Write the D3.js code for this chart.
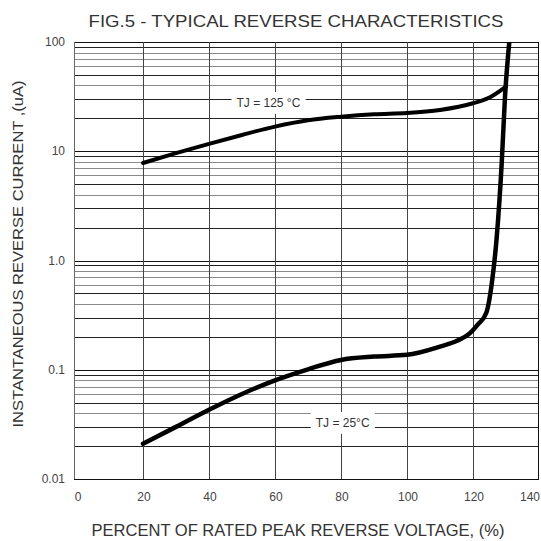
<!DOCTYPE html>
<html><head><meta charset="utf-8">
<script src="https://cdn.jsdelivr.net/npm/d3@7"></script>
<style>html,body{margin:0;padding:0;background:#fff;}svg{display:block;font-family:"Liberation Sans",Arial,sans-serif;}</style>
</head><body>
<svg id="c" width="541" height="541"></svg>
<script>
const title = "FIG.5 - TYPICAL REVERSE CHARACTERISTICS";
const xTitle = "PERCENT OF RATED PEAK REVERSE VOLTAGE, (%)";
const yTitle = "INSTANTANEOUS REVERSE CURRENT ,(uA)";
const xTicks = [0, 20, 40, 60, 80, 100, 120, 140];
const yTicks = [0.01, 0.1, 1, 10, 100];
const yTickLabels = ["0.01", "0.1", "1.0", "10", "100"];
const x125 = [20, 30, 40, 50, 60, 70, 80, 90, 100, 110, 120, 125, 130];
const y125 = [7.8, 9.6, 11.7, 14.1, 16.8, 19.2, 20.7, 21.8, 22.4, 23.9, 27.5, 31, 39];
const x25 = [20, 30, 40, 50, 60, 70, 80, 90, 100, 110, 115, 119, 121.5, 124, 125.7, 127.2, 128.7, 129.7, 131];
const y25 = [0.021, 0.030, 0.043, 0.060, 0.080, 0.101, 0.123, 0.132, 0.137, 0.163, 0.183, 0.215, 0.26, 0.33, 0.62, 1.65, 7.8, 31.6, 100];
const labels = ["TJ = 125 \u00B0C", "TJ = 25\u00B0C"];
const labelX = [58, 80.5];
const labelY = [27.7, 0.0326];

const svg = d3.select("#c");
const L = 74, R = 539, T = 42, B = 479;
const x = d3.scaleLinear().domain([0, 140]).range([77, 539]);
const y = d3.scaleLog().domain([0.01, 100]).range([B, T]);

// horizontal grid
const minor = [];
[0.01, 0.1, 1, 10].forEach(d => { for (let k = 2; k <= 9; k++) minor.push({v: d * k, k}); });
svg.append("g").selectAll("line").data(minor).join("line")
  .attr("x1", L).attr("x2", R)
  .attr("y1", d => Math.round(y(d.v)) + 0.5).attr("y2", d => Math.round(y(d.v)) + 0.5)
  .attr("stroke", d => (d.k === 2 || d.k === 3 || d.k === 5 || d.k === 9) ? "#222" : "#8a8a8a")
  .attr("stroke-width", 1);
svg.append("g").selectAll("line").data(yTicks).join("line")
  .attr("x1", L).attr("x2", R)
  .attr("y1", d => Math.round(y(d)) + 0.5).attr("y2", d => Math.round(y(d)) + 0.5)
  .attr("stroke", "#111").attr("stroke-width", 1.2);
// vertical grid
svg.append("g").selectAll("line").data(xTicks.filter(d => d > 0 && d < 140)).join("line")
  .attr("x1", d => Math.round(x(d)) + 0.5).attr("x2", d => Math.round(x(d)) + 0.5)
  .attr("y1", T).attr("y2", B).attr("stroke", "#444").attr("stroke-width", 1);
// frame
svg.append("line").attr("x1", L + 0.5).attr("x2", L + 0.5).attr("y1", T).attr("y2", B).attr("stroke", "#666");
svg.append("line").attr("x1", R - 0.5).attr("x2", R - 0.5).attr("y1", T).attr("y2", B).attr("stroke", "#111");

// label boxes
const lbl = svg.append("g");
labels.forEach((t, i) => {
  const tx = x(labelX[i]), ty = y(labelY[i]);
  const txt = lbl.append("text").attr("x", tx).attr("y", ty).attr("text-anchor", "middle")
    .attr("dominant-baseline", "central").attr("font-size", 12).attr("fill", "#333").text(t);
  const bb = txt.node().getBBox();
  lbl.insert("rect", "text").attr("x", bb.x - 5).attr("y", bb.y - 4).attr("width", bb.width + 10)
    .attr("height", bb.height + 8).attr("fill", "#fff");
});

// curves
const line = d3.line().x(d => x(d[0])).y(d => y(d[1])).curve(d3.curveMonotoneX);
svg.append("defs").append("clipPath").attr("id", "clip").append("rect")
  .attr("x", L).attr("y", T).attr("width", R - L).attr("height", B - T);
const cg = svg.append("g").attr("clip-path", "url(#clip)");
cg.append("path").datum(d3.zip(x125, y125)).attr("d", line).attr("fill", "none")
  .attr("stroke", "#000").attr("stroke-width", 4).attr("stroke-linecap", "round");
cg.append("path").datum(d3.zip(x25, y25)).attr("d", line).attr("fill", "none")
  .attr("stroke", "#000").attr("stroke-width", 4.5).attr("stroke-linecap", "round");

// tick labels
svg.append("g").selectAll("text").data(yTicks).join("text")
  .attr("x", 65).attr("y", d => y(d)).attr("text-anchor", "end").attr("dominant-baseline", "central")
  .attr("font-size", 12).attr("fill", "#444").text((d, i) => yTickLabels[i]);
svg.append("g").selectAll("text").data(xTicks).join("text")
  .attr("x", d => d === 140 ? 540 : x(d) + 1).attr("y", 497)
  .attr("text-anchor", d => d === 140 ? "end" : "middle").attr("dominant-baseline", "central")
  .attr("font-size", 12).attr("fill", "#444").text(d => d);

// titles
svg.append("text").attr("x", 296).attr("y", 27).attr("text-anchor", "middle")
  .attr("font-size", 17).attr("fill", "#333").attr("textLength", 415).attr("lengthAdjust", "spacingAndGlyphs").text(title);
svg.append("text").attr("x", 298).attr("y", 536).attr("text-anchor", "middle")
  .attr("font-size", 16).attr("fill", "#333").attr("textLength", 413).attr("lengthAdjust", "spacingAndGlyphs").text(xTitle);
svg.append("text").attr("transform", "translate(23,254) rotate(-90)").attr("text-anchor", "middle")
  .attr("font-size", 15).attr("fill", "#333").attr("textLength", 347).attr("lengthAdjust", "spacingAndGlyphs").text(yTitle);
</script>
</body></html>
